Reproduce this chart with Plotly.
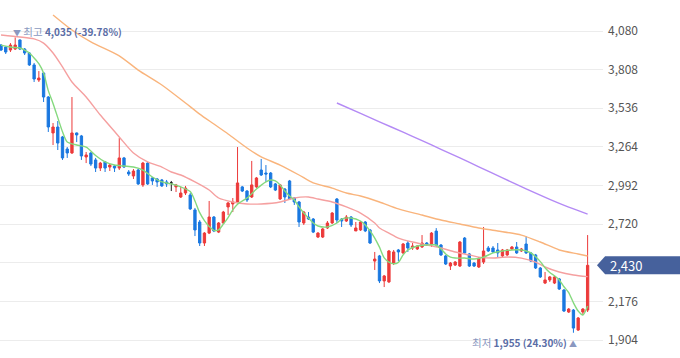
import plotly.graph_objects as go

# ---------------- data ----------------
idx = list(range(125))
open_ = [3981, 3967, 3946, 3953, 4017, 3953, 3925, 3841, 3735, 3784,
         3615, 3362, 3404, 3334, 3249, 3221, 3362, 3341, 3193, 3221,
         3172, 3115, 3158, 3122, 3129, 3115, 3186, 3087, 3059, 3101,
         2996, 3150, 3045, 3038, 3031, 3017, 3010, 2982, 2911, 2939,
         2925, 2820, 2735, 2587, 2657, 2770, 2664, 2728, 2841, 2862,
         2876, 2982, 2953, 2911, 2982, 3101, 3080, 3080, 3003, 2897,
         2967, 3024, 2904, 2876, 2728, 2770, 2756, 2629, 2629, 2693,
         2728, 2897, 2756, 2742, 2770, 2672, 2679, 2735, 2679, 2460,
         2496, 2320, 2313, 2446, 2538, 2517, 2587, 2552, 2545, 2559,
         2587, 2573, 2671, 2573, 2496, 2425, 2432, 2425, 2622, 2510,
         2446, 2418, 2453, 2552, 2552, 2538, 2496, 2503, 2545, 2559,
         2531, 2580, 2517, 2503, 2411, 2305, 2327, 2305, 2334, 2256,
         2101, 2115, 1974, 2101, 2115]
high = [3988, 3970, 3995, 4035, 4020, 3960, 3932, 3855, 3798, 3791,
        3622, 3432, 3446, 3341, 3263, 3615, 3365, 3348, 3228, 3228,
        3186, 3158, 3165, 3143, 3136, 3326, 3193, 3101, 3108, 3108,
        3158, 3158, 3052, 3045, 3038, 3031, 3024, 3003, 2982, 2989,
        2939, 2834, 2749, 2664, 2883, 2777, 2735, 2813, 2876, 2904,
        3263, 2989, 2960, 3165, 3052, 3179, 3136, 3087, 3010, 3003,
        2974, 3031, 2911, 2883, 2813, 2805, 2763, 2664, 2693, 2742,
        2805, 2904, 2763, 2784, 2777, 2735, 2742, 2742, 2686, 2524,
        2503, 2362, 2538, 2538, 2545, 2587, 2601, 2587, 2573, 2643,
        2594, 2664, 2692, 2580, 2503, 2453, 2460, 2601, 2629, 2517,
        2453, 2488, 2700, 2566, 2566, 2587, 2545, 2545, 2566, 2594,
        2552, 2636, 2524, 2510, 2418, 2383, 2355, 2355, 2341, 2263,
        2129, 2122, 2066, 2129, 2643]
low = [3939, 3918, 3932, 3946, 3946, 3911, 3834, 3721, 3721, 3580,
       3369, 3277, 3242, 3172, 3186, 3214, 3298, 3172, 3150, 3129,
       3087, 3094, 3087, 3094, 3087, 3101, 3115, 3059, 3038, 2996,
       2982, 2996, 2996, 2982, 2982, 2982, 2953, 2946, 2904, 2925,
       2820, 2636, 2566, 2566, 2650, 2664, 2657, 2721, 2784, 2805,
       2869, 2946, 2876, 2904, 2975, 3059, 3017, 2974, 2953, 2890,
       2869, 2890, 2855, 2700, 2714, 2749, 2657, 2622, 2622, 2686,
       2721, 2728, 2700, 2735, 2700, 2672, 2672, 2664, 2580, 2397,
       2305, 2277, 2305, 2432, 2460, 2510, 2524, 2538, 2538, 2552,
       2566, 2559, 2559, 2496, 2432, 2397, 2425, 2418, 2510, 2418,
       2418, 2411, 2439, 2524, 2517, 2488, 2488, 2496, 2538, 2510,
       2524, 2510, 2453, 2404, 2341, 2298, 2313, 2298, 2256, 2101,
       2094, 1955, 1968, 2080, 2101]
close = [3946, 3932, 3981, 3981, 3953, 3925, 3841, 3742, 3749, 3615,
         3404, 3404, 3291, 3186, 3221, 3362, 3348, 3200, 3207, 3143,
         3115, 3150, 3115, 3136, 3115, 3186, 3122, 3073, 3094, 3003,
         3150, 3003, 3024, 3017, 2989, 3003, 3010, 2996, 2939, 2974,
         2827, 2679, 2587, 2657, 2770, 2672, 2728, 2805, 2869, 2876,
         3010, 2953, 2890, 2996, 3045, 3066, 3073, 2982, 2960, 2996,
         2911, 2897, 2876, 2735, 2805, 2756, 2664, 2657, 2686, 2728,
         2798, 2749, 2742, 2770, 2714, 2693, 2735, 2672, 2587, 2474,
         2320, 2355, 2531, 2524, 2524, 2580, 2552, 2566, 2566, 2587,
         2573, 2657, 2573, 2503, 2439, 2446, 2453, 2594, 2517, 2425,
         2425, 2481, 2531, 2531, 2524, 2517, 2538, 2538, 2559, 2517,
         2545, 2517, 2460, 2411, 2348, 2327, 2348, 2348, 2263, 2108,
         2122, 1988, 2059, 2122, 2430]

ma5_x = [0, 2, 4, 5, 6, 7, 8, 9, 10, 11, 12, 13, 14, 16, 18, 20, 22, 24, 26, 28,
         30, 32, 34, 36, 38, 40, 41, 42, 43, 44, 45, 46, 47, 48, 49, 50, 52, 54,
         56, 57, 58, 59, 60, 61, 62, 63, 64, 65, 66, 67, 69, 71, 72, 74, 76, 77,
         78, 79, 80, 81, 82, 83, 84, 85, 86, 88, 90, 92, 93, 94, 95, 96, 98, 100,
         102, 104, 106, 108, 110, 111, 112, 113, 114, 115, 116, 117, 118, 119,
         120, 121, 122, 123, 124]
ma5_y = [3981, 3967, 3960, 3946, 3925, 3890, 3850, 3784, 3660, 3570, 3470, 3370,
         3298, 3277, 3262, 3203, 3158, 3136, 3129, 3122, 3101, 3052, 3017, 3003,
         2982, 2949, 2883, 2801, 2745, 2704, 2676, 2679, 2720, 2766, 2820, 2860,
         2904, 2967, 3017, 3031, 3024, 2996, 2953, 2918, 2890, 2841, 2798, 2763,
         2728, 2707, 2700, 2728, 2756, 2763, 2742, 2714, 2672, 2622, 2558, 2482,
         2453, 2441, 2451, 2503, 2538, 2566, 2573, 2573, 2545, 2510, 2488, 2481,
         2481, 2474, 2488, 2517, 2531, 2538, 2538, 2531, 2517, 2490, 2456, 2413,
         2379, 2356, 2327, 2279, 2238, 2166, 2108, 2080, 2144]

ma20_x = [0, 4, 7, 9, 11, 13, 15, 18, 21, 25, 28, 31, 34, 36, 38, 41, 44, 46, 49,
          52, 55, 59, 62, 65, 67, 70, 73, 76, 79, 80, 82, 84, 87, 90, 93, 96, 99,
          101, 104, 107, 110, 113, 115, 118, 121, 124]
ma20_y = [4052, 4038, 4024, 3995, 3925, 3827, 3721, 3615, 3488, 3334, 3221, 3158,
          3122, 3087, 3066, 3017, 2960, 2904, 2876, 2862, 2862, 2876, 2904, 2911,
          2897, 2876, 2841, 2798, 2728, 2693, 2657, 2622, 2594, 2573, 2552, 2524,
          2503, 2488, 2481, 2488, 2481, 2453, 2418, 2383, 2362, 2350]

ma60_x = [11, 15, 19, 25, 29, 34, 39, 42, 45, 48, 52, 55, 59, 63, 66, 70, 73, 76,
          80, 84, 89, 93, 97, 101, 105, 110, 114, 118, 122, 124]
ma60_y = [4193, 4087, 4003, 3905, 3805, 3700, 3573, 3495, 3425, 3355, 3256, 3193,
          3136, 3066, 3010, 2974, 2939, 2918, 2876, 2827, 2784, 2749, 2721, 2693,
          2672, 2643, 2594, 2538, 2510, 2496]

ma120_x = [71, 76, 80, 85, 89, 93, 97, 101, 106, 111, 116, 120, 124]
ma120_y = [3573, 3500, 3440, 3368, 3308, 3247, 3186, 3124, 3046, 2968, 2895,
           2840, 2791]

tick_vals = [1904, 2176, 2448, 2720, 2992, 3264, 3536, 3808, 4080]

# ---------------- styling ----------------
RED = "#ec3a3a"
BLUE = "#1a78e0"
FONT = "Noto Sans CJK KR"

fig = go.Figure()

for xs, ys, col in [(ma120_x, ma120_y, "#b48af5"),
                    (ma60_x, ma60_y, "#f9b47c"),
                    (ma20_x, ma20_y, "#f5a0a0"),
                    (ma5_x, ma5_y, "#85d97e")]:
    fig.add_trace(go.Scatter(x=xs, y=ys, mode="lines",
                             line=dict(color=col, width=1.4, shape="spline", smoothing=0.7),
                             hoverinfo="skip"))

norm = [i for i in idx if open_[i] != close[i]]
doji = [i for i in idx if open_[i] == close[i]]

fig.add_trace(go.Candlestick(
    x=norm,
    open=[open_[i] for i in norm], high=[high[i] for i in norm],
    low=[low[i] for i in norm], close=[close[i] for i in norm],
    increasing=dict(line=dict(color=RED, width=1), fillcolor=RED),
    decreasing=dict(line=dict(color=BLUE, width=1), fillcolor=BLUE),
    whiskerwidth=0))
if doji:
    fig.add_trace(go.Candlestick(
        x=doji,
        open=[open_[i] for i in doji], high=[high[i] for i in doji],
        low=[low[i] for i in doji], close=[close[i] for i in doji],
        increasing=dict(line=dict(color="#222222", width=1), fillcolor="#222222"),
        decreasing=dict(line=dict(color="#222222", width=1), fillcolor="#222222"),
        whiskerwidth=0))

last = close[-1]
imax = max(idx, key=lambda i: high[i])
imin = min(idx, key=lambda i: low[i])
pmax = (last - high[imax]) / high[imax] * 100
pmin = (last - low[imin]) / low[imin] * 100

LIGHT = "#8a98c0"
DARK = "#5a6da6"

annotations = [
    dict(x=imax, y=high[imax], xref="x", yref="y", xanchor="left", yanchor="middle",
         xshift=-4, yshift=6, showarrow=False,
         text=(f'<span style="color:{LIGHT};font-size:8px">▼</span>'
               f'<span style="color:{LIGHT};font-size:10.5px"> 최고</span> '
               f'<b>{high[imax]:,} ({pmax:.2f}%)</b>'),
         font=dict(family=FONT, size=10, color=DARK)),
    dict(x=imin, y=low[imin], xref="x", yref="y", xanchor="right", yanchor="middle",
         xshift=6, yshift=-10, showarrow=False,
         text=(f'<span style="color:{LIGHT};font-size:10.5px">최저</span> '
               f'<b>{low[imin]:,} ({pmin:.2f}%)</b> '
               f'<span style="color:{LIGHT};font-size:8px">▲</span>'),
         font=dict(family=FONT, size=10, color=DARK)),
    dict(x=1.009, y=last, xref="paper", yref="y", xanchor="left", yanchor="middle",
         showarrow=False, text=f"{last:,}",
         font=dict(family=FONT, size=13, color="white")),
]

half = 9 * 7.042
shapes = [dict(type="path", xref="paper", yref="y", layer="above",
               path=(f"M 0.990,{last} L 1.0035,{last + half} L 1.13,{last + half} "
                     f"L 1.13,{last - half} L 1.0035,{last - half} Z"),
               fillcolor="#46619c", line=dict(width=0))]

# the tick hidden behind the current-price box keeps its gridline but no label
ticktext = ["" if abs(v - last) < 60 else f"{v:,}" for v in tick_vals]

fig.update_layout(
    width=680, height=358,
    margin=dict(l=0, r=77, t=5, b=8),
    paper_bgcolor="white", plot_bgcolor="white",
    showlegend=False,
    xaxis=dict(range=[-0.211, 127.25], showgrid=False, zeroline=False,
               showticklabels=False, showline=False, ticks="",
               rangeslider=dict(visible=False), fixedrange=True),
    yaxis=dict(side="right", range=[1833.6, 4263.1], tickvals=tick_vals,
               ticktext=ticktext,
               showgrid=True, gridcolor="#ececec", gridwidth=1, zeroline=False,
               showline=False, ticks="", automargin=False,
               tickfont=dict(family=FONT, size=12, color="#555555"),
               ticklabelstandoff=4, fixedrange=True),
    annotations=annotations,
    shapes=shapes,
)

fig.write_html("out.html",
               config={"displayModeBar": False},
               post_script="document.body.style.margin='0';document.body.style.overflow='hidden';")
